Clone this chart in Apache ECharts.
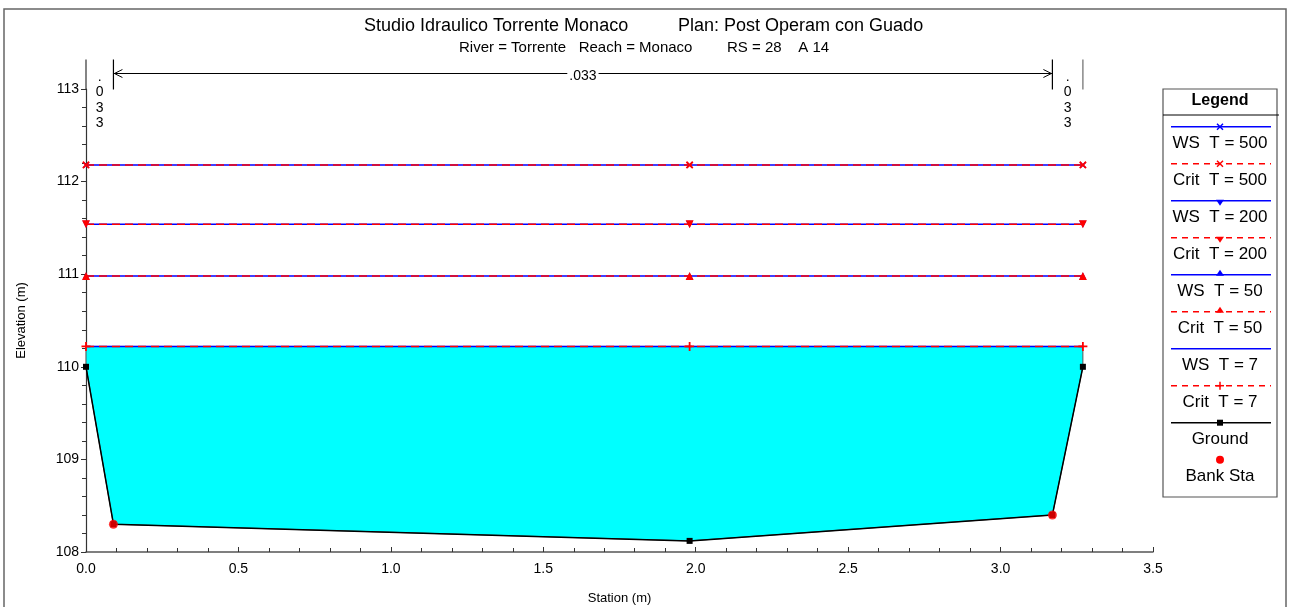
<!DOCTYPE html>
<html>
<head>
<meta charset="utf-8">
<script src="https://cdn.jsdelivr.net/npm/echarts@6/dist/echarts.min.js"></script>
<style>
html,body{margin:0;padding:0;background:#fff;}
#chart{width:1289px;height:607px;}
</style>
</head>
<body>
<div id="chart"></div>
<script>
// ---- data ----
const groundStations = [0, 0.09, 1.98, 3.17, 3.27];
const groundElev = [110.0, 108.30, 108.12, 108.40, 110.0];
const bankStations = [0.09, 3.17];
const bankElev = [108.30, 108.40];
const wsStations = [0, 1.98, 3.27];
const wsT500 = [112.18, 112.18, 112.18];
const critT500 = [112.18, 112.18, 112.18];
const wsT200 = [111.54, 111.54, 111.54];
const critT200 = [111.54, 111.54, 111.54];
const wsT50 = [110.98, 110.98, 110.98];
const critT50 = [110.98, 110.98, 110.98];
const wsT7 = [110.22, 110.22, 110.22];
const critT7 = [110.22, 110.22, 110.22];
const manningStations = [0, 0.09, 3.17, 3.27];
const manningN = ['.033', '.033', '.033'];
const xTicks = [0, 0.5, 1.0, 1.5, 2.0, 2.5, 3.0, 3.5];
const yTicks = [108, 109, 110, 111, 112, 113];

const FONT = '"Liberation Sans", Arial, sans-serif';
const BLUE = '#0000ff', RED = '#ff0000', CYAN = '#00ffff';
const PLUS = 'path://M4,0H6V4H10V6H6V10H4V6H0V4H4Z';

function pts(xs, ys) { return xs.map((x, i) => [x, ys[i]]); }

function wsSeries(name, ys, symbol, rotate) {
  return {
    type: 'line', name: name, data: pts(wsStations, ys),
    lineStyle: { color: BLUE, width: 1.6 },
    itemStyle: { color: BLUE },
    symbol: symbol || 'none', symbolSize: 7, symbolRotate: rotate || 0,
    showSymbol: !!symbol, z: 4, silent: true
  };
}
function critSeries(name, ys, symbol, rotate, size) {
  return {
    type: 'line', name: name, data: pts(wsStations, ys),
    lineStyle: { color: RED, width: 1.6, type: [8, 5] },
    itemStyle: { color: RED },
    symbol: symbol, symbolSize: size || 7, symbolRotate: rotate || 0,
    z: 5, silent: true
  };
}

// water fill polygon: ground + WS T=7 level
const fillSeries = {
  type: 'custom', coordinateSystem: 'cartesian2d', data: [[0, 110]], z: 2, silent: true,
  renderItem: function (params, api) {
    const n = groundStations.length;
    const poly = [];
    poly.push(api.coord([wsStations[0], wsT7[0]]));
    for (let i = 0; i < n; i++) poly.push(api.coord([groundStations[i], groundElev[i]]));
    poly.push(api.coord([wsStations[wsStations.length - 1], wsT7[wsT7.length - 1]]));
    return { type: 'polygon', shape: { points: poly }, style: { fill: CYAN, stroke: '#555', lineWidth: 1 } };
  }
};

// Manning's n annotation
const manningSeries = {
  type: 'custom', coordinateSystem: 'cartesian2d', data: [[0, 113]], z: 6, silent: true, clip: false,
  renderItem: function (params, api) {
    const top = api.coord([0, 113])[1];
    const x0 = api.coord([manningStations[0], 113])[0];
    const xb1 = api.coord([manningStations[1], 113])[0];
    const xb2 = api.coord([manningStations[2], 113])[0];
    const x3 = api.coord([manningStations[3], 113])[0];
    const yTop = top - 29.5, yBot = top + 0.5, yArr = top - 15.5;
    const children = [];
    // y axis extension
    children.push({ type: 'line', shape: { x1: x0, y1: yTop, x2: x0, y2: top }, style: { stroke: '#333', lineWidth: 1.2 } });
    children.push({ type: 'line', shape: { x1: xb1, y1: yTop, x2: xb1, y2: yBot }, style: { stroke: '#000', lineWidth: 1.2 } });
    children.push({ type: 'line', shape: { x1: xb2, y1: yTop, x2: xb2, y2: yBot }, style: { stroke: '#000', lineWidth: 1.2 } });
    children.push({ type: 'line', shape: { x1: x3, y1: yTop, x2: x3, y2: yBot }, style: { stroke: '#888', lineWidth: 1.5 } });
    children.push({ type: 'line', shape: { x1: xb1, y1: yArr, x2: xb2, y2: yArr }, style: { stroke: '#000', lineWidth: 1 } });
    children.push({ type: 'polyline', shape: { points: [[xb1 + 9, yArr - 4], [xb1 + 1, yArr], [xb1 + 9, yArr + 4]] }, style: { stroke: '#000', fill: null, lineWidth: 1 } });
    children.push({ type: 'polyline', shape: { points: [[xb2 - 9, yArr - 4], [xb2 - 1, yArr], [xb2 - 9, yArr + 4]] }, style: { stroke: '#000', fill: null, lineWidth: 1 } });
    children.push({ type: 'text', x: (xb1 + xb2) / 2, y: yArr + 3, style: { text: manningN[1], fill: '#000', font: '14px ' + FONT, align: 'center', verticalAlign: 'middle', backgroundColor: '#fff', padding: [0, 2] } });
    const vt = (s) => s.split('').join('\n');
    children.push({ type: 'text', x: (x0 + xb1) / 2, y: yTop + 10, style: { text: vt(manningN[0]), fill: '#000', font: '14px ' + FONT, align: 'center', verticalAlign: 'top', lineHeight: 15.3 } });
    children.push({ type: 'text', x: (xb2 + x3) / 2, y: yTop + 10, style: { text: vt(manningN[2]), fill: '#000', font: '14px ' + FONT, align: 'center', verticalAlign: 'top', lineHeight: 15.3 } });
    return { type: 'group', children: children };
  }
};

// ---- legend drawn as graphics ----
const legendItems = [
  { name: 'WS  T = 500', color: BLUE, dash: false, mk: 'x' },
  { name: 'Crit  T = 500', color: RED, dash: true, mk: 'x' },
  { name: 'WS  T = 200', color: BLUE, dash: false, mk: 'down' },
  { name: 'Crit  T = 200', color: RED, dash: true, mk: 'down' },
  { name: 'WS  T = 50', color: BLUE, dash: false, mk: 'up' },
  { name: 'Crit  T = 50', color: RED, dash: true, mk: 'up' },
  { name: 'WS  T = 7', color: BLUE, dash: false, mk: null },
  { name: 'Crit  T = 7', color: RED, dash: true, mk: 'plus' },
  { name: 'Ground', color: '#000', dash: false, mk: 'sq' },
  { name: 'Bank Sta', color: RED, dash: null, mk: 'circle' }
];
const LX1 = 1171, LX2 = 1271, LCX = 1220;
const legendGraphics = [
  { type: 'rect', shape: { x: 1163, y: 89, width: 114, height: 408 }, style: { fill: '#fff', stroke: '#555', lineWidth: 1.2 }, z: 10 },
  { type: 'line', shape: { x1: 1163, y1: 115, x2: 1279, y2: 115 }, style: { stroke: '#000', lineWidth: 1 }, z: 11 },
  { type: 'text', x: LCX, y: 101, style: { text: 'Legend', font: 'bold 16px ' + FONT, fill: '#000', align: 'center', verticalAlign: 'middle' }, z: 11 }
];
legendItems.forEach((it, i) => {
  const ly = 126.7 + i * 37.0;
  if (it.dash !== null) {
    legendGraphics.push({ type: 'line', shape: { x1: LX1, y1: ly, x2: LX2, y2: ly }, style: { stroke: it.color, lineWidth: 1.5, lineDash: it.dash ? [6, 5] : null }, z: 11 });
  }
  const c = it.color;
  if (it.mk === 'x') {
    legendGraphics.push({ type: 'line', shape: { x1: LCX - 3, y1: ly - 3, x2: LCX + 3, y2: ly + 3 }, style: { stroke: c, lineWidth: 1.5 }, z: 12 });
    legendGraphics.push({ type: 'line', shape: { x1: LCX - 3, y1: ly + 3, x2: LCX + 3, y2: ly - 3 }, style: { stroke: c, lineWidth: 1.5 }, z: 12 });
  } else if (it.mk === 'plus') {
    legendGraphics.push({ type: 'line', shape: { x1: LCX - 4, y1: ly, x2: LCX + 4, y2: ly }, style: { stroke: c, lineWidth: 1.5 }, z: 12 });
    legendGraphics.push({ type: 'line', shape: { x1: LCX, y1: ly - 4, x2: LCX, y2: ly + 4 }, style: { stroke: c, lineWidth: 1.5 }, z: 12 });
  } else if (it.mk === 'down') {
    legendGraphics.push({ type: 'polygon', shape: { points: [[LCX - 4, ly - 1], [LCX + 4, ly - 1], [LCX, ly + 5]] }, style: { fill: c }, z: 12 });
  } else if (it.mk === 'up') {
    legendGraphics.push({ type: 'polygon', shape: { points: [[LCX - 4, ly + 1], [LCX + 4, ly + 1], [LCX, ly - 5]] }, style: { fill: c }, z: 12 });
  } else if (it.mk === 'sq') {
    legendGraphics.push({ type: 'rect', shape: { x: LCX - 3, y: ly - 3, width: 6, height: 6 }, style: { fill: c }, z: 12 });
  } else if (it.mk === 'circle') {
    legendGraphics.push({ type: 'circle', shape: { cx: LCX, cy: ly, r: 4 }, style: { fill: c }, z: 12 });
  }
  legendGraphics.push({ type: 'text', x: LCX, y: ly + 17, style: { text: it.name, font: '17px ' + FONT, fill: '#000', align: 'center', verticalAlign: 'middle' }, z: 12 });
});

const titleGraphics = [
  { type: 'rect', shape: { x: 4, y: 9, width: 1282, height: 610 }, style: { fill: null, stroke: '#666', lineWidth: 1.5 }, z: 0 },
  { type: 'text', x: 364, y: 26, style: { text: 'Studio Idraulico Torrente Monaco', font: '18px ' + FONT, fill: '#000', align: 'left', verticalAlign: 'middle' } },
  { type: 'text', x: 678, y: 26, style: { text: 'Plan: Post Operam con Guado', font: '18px ' + FONT, fill: '#000', align: 'left', verticalAlign: 'middle' } },
  { type: 'text', x: 459, y: 48, style: { text: 'River = Torrente   Reach = Monaco', font: '15px ' + FONT, fill: '#000', align: 'left', verticalAlign: 'middle' } },
  { type: 'text', x: 727, y: 48, style: { text: 'RS = 28    A 14', font: '15px ' + FONT, fill: '#000', align: 'left', verticalAlign: 'middle' } }
];

const chart = echarts.init(document.getElementById('chart'), null, { renderer: 'canvas' });
const option = {
  animation: false,
  backgroundColor: '#fff',
  grid: { left: 86, right: 136, top: 89, bottom: 55, containLabel: false, outerBoundsMode: 'none' },
  xAxis: {
    type: 'value', min: xTicks[0], max: xTicks[xTicks.length - 1], interval: 0.5,
    name: 'Station (m)', nameLocation: 'middle', nameGap: 40,
    nameTextStyle: { fontFamily: FONT, fontSize: 13, color: '#000' },
    axisLine: { lineStyle: { color: '#555', width: 1.5 } },
    axisTick: { inside: true, length: 5, lineStyle: { color: '#333' } },
    minorTick: { show: true, splitNumber: 5, length: 4, lineStyle: { color: '#333' } },
    splitLine: { show: false },
    axisLabel: { formatter: v => v.toFixed(1), fontFamily: FONT, fontSize: 14, color: '#000', margin: 10 }
  },
  yAxis: {
    type: 'value', min: yTicks[0], max: yTicks[yTicks.length - 1], interval: 1,
    name: 'Elevation (m)', nameLocation: 'middle', nameGap: 58, nameRotate: 90,
    nameTextStyle: { fontFamily: FONT, fontSize: 13, color: '#000' },
    axisLine: { lineStyle: { color: '#333', width: 1.2 } },
    axisTick: { inside: false, length: 5, lineStyle: { color: '#333' } },
    minorTick: { show: true, splitNumber: 5, length: 4, lineStyle: { color: '#333' } },
    splitLine: { show: false },
    axisLabel: { fontFamily: FONT, fontSize: 14, color: '#000', margin: 7 }
  },
  graphic: titleGraphics.concat(legendGraphics),
  series: [
    fillSeries,
    {
      type: 'line', name: 'Ground', data: pts(groundStations, groundElev),
      lineStyle: { color: '#000', width: 1.5 }, itemStyle: { color: '#000' },
      symbol: 'rect', symbolSize: 6, z: 6, silent: true
    },
    {
      type: 'scatter', name: 'Bank Sta', data: pts(bankStations, bankElev),
      itemStyle: { color: RED }, symbol: 'circle', symbolSize: 9, z: 7, silent: true
    },
    wsSeries('WS T = 500', wsT500, PLUS, 45),
    wsSeries('WS T = 200', wsT200, 'triangle', 180),
    wsSeries('WS T = 50', wsT50, 'triangle', 0),
    wsSeries('WS T = 7', wsT7, null, 0),
    critSeries('Crit T = 500', critT500, PLUS, 45, 9),
    critSeries('Crit T = 200', critT200, 'triangle', 180, 8),
    critSeries('Crit T = 50', critT50, 'triangle', 0, 8),
    critSeries('Crit T = 7', critT7, PLUS, 0, 9),
    manningSeries
  ]
};
chart.setOption(option);
</script>
</body>
</html>
